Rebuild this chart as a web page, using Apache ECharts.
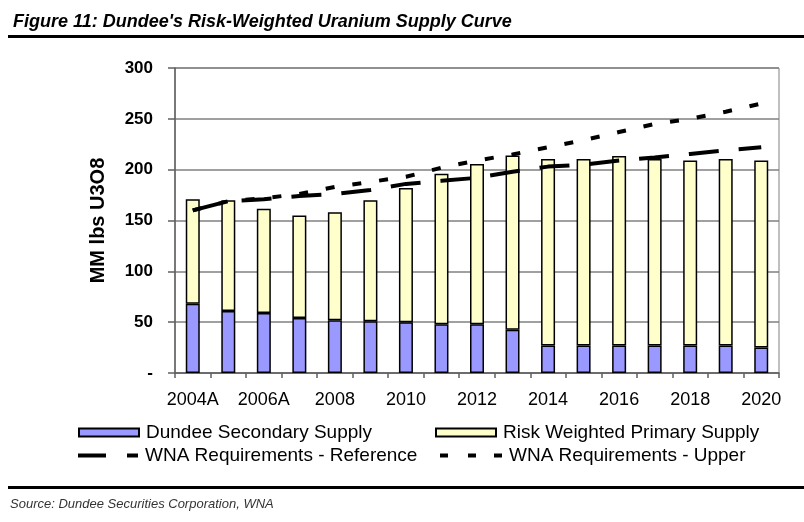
<!DOCTYPE html>
<html>
<head>
<meta charset="utf-8">
<script src="https://cdn.jsdelivr.net/npm/echarts@6/dist/echarts.min.js"></script>
<style>
html,body{margin:0;padding:0;background:#fff;}
#chart{width:804px;height:522px;}
</style>
</head>
<body>
<div id="chart"></div>
<script>
var categories = ['2004A','2005A','2006A','2007','2008','2009','2010','2011','2012','2013','2014','2015','2016','2017','2018','2019','2020'];
var secondarySupply = [68, 61, 59, 54, 52, 51, 50, 48, 48, 42.5, 27, 27, 27, 27, 27, 27, 25];
var primarySupply = [103, 109, 102.5, 101, 106, 119, 132, 148, 157.5, 171.5, 183.5, 183.5, 186.5, 183.5, 182, 183.5, 184];
var wnaReference = [160, 169, 171, 174, 176, 180, 186, 189, 192, 198, 203, 205, 209, 212, 215.5, 219, 222];
var wnaUpper = [160, 169, 172, 176, 183, 188, 193, 202, 209, 215, 222, 229, 237, 245, 250, 257, 265];
var yTicks = [0, 50, 100, 150, 200, 250, 300];

var FONT = "'Liberation Sans', Arial, sans-serif";
var chart = echarts.init(document.getElementById('chart'), null, {renderer: 'canvas'});

function legendBox(name, left, top, w, h, icon) {
  return {
    data: [{name: name, icon: icon}], left: left, top: top, itemWidth: w, itemHeight: h,
    padding: 0, itemGap: 0, selectedMode: false,
    textStyle: {fontFamily: FONT, fontSize: 19, color: '#000', padding: [0,0,0,2]}
  };
}

var option = {
  animation: false,
  backgroundColor: '#fff',
  title: {
    text: "Figure 11: Dundee's Risk-Weighted Uranium Supply Curve",
    left: 8, top: 8,
    textStyle: {fontFamily: FONT, fontSize: 18, fontWeight: 'bold', fontStyle: 'italic', color: '#000'}
  },
  graphic: [
    {type: 'rect', shape: {x: 8, y: 35, width: 796, height: 3}, style: {fill: '#000'}},
    {type: 'rect', shape: {x: 8, y: 486, width: 796, height: 3}, style: {fill: '#000'}},
    {type: 'text', left: 10, top: 498, style: {text: 'Source: Dundee Securities Corporation, WNA', fontFamily: FONT, fontSize: 13, fontStyle: 'italic', fill: '#333'}}
  ],
  legend: [
    legendBox('Dundee Secondary Supply', 78, 423, 60, 8, 'rect'),
    legendBox('Risk Weighted Primary Supply', 435, 423, 60, 8, 'rect'),
    legendBox('WNA Requirements - Reference', 78, 446, 60, 4, 'path://M0,0h28v4h-28z M49,0h11v4h-11z'),
    legendBox('WNA Requirements - Upper', 440, 446, 62, 4, 'path://M0,0h8v4h-8z M28,0h8v4h-8z M54,0h8v4h-8z')
  ],
  grid: {left: 175, right: 25, top: 68, bottom: 149, show: true, borderColor: '#808080', borderWidth: 1},
  xAxis: {
    type: 'category',
    data: categories,
    boundaryGap: true,
    axisLine: {lineStyle: {color: '#606060', width: 1.5}},
    axisTick: {show: true, length: 5, interval: 0, lineStyle: {color: '#606060', width: 1.5}},
    axisLabel: {interval: 1, margin: 18, fontFamily: FONT, fontSize: 18, color: '#000'}
  },
  yAxis: {
    type: 'value',
    min: 0, max: 300, interval: 50,
    name: 'MM lbs U3O8',
    nameLocation: 'middle',
    nameGap: 67,
    nameRotate: 90,
    nameTextStyle: {fontFamily: FONT, fontSize: 20, fontWeight: 'bold', color: '#000'},
    axisLine: {show: true, lineStyle: {color: '#606060', width: 1.5}},
    axisTick: {show: true, length: 7, lineStyle: {color: '#606060', width: 1.5}},
    splitLine: {show: true, lineStyle: {color: '#808080', width: 1.5}},
    axisLabel: {
      margin: 22, fontFamily: FONT, fontSize: 17, fontWeight: 'bold', color: '#000',
      formatter: function (v) { return yTicks.indexOf(v) === 0 ? '-' : String(v); }
    }
  },
  series: [
    {
      name: 'Dundee Secondary Supply', type: 'bar', stack: 'supply', barWidth: 14,
      data: secondarySupply,
      itemStyle: {color: '#9999FF', borderColor: '#000', borderWidth: 1.5}
    },
    {
      name: 'Risk Weighted Primary Supply', type: 'bar', stack: 'supply', barWidth: 14,
      data: primarySupply,
      itemStyle: {color: '#FFFFCC', borderColor: '#000', borderWidth: 1.5}
    },
    {
      name: 'WNA Requirements - Reference', type: 'line', data: wnaReference,
      symbol: 'none', z: 5,
      lineStyle: {color: '#000', width: 4, type: [30, 20]},
      itemStyle: {color: '#000', borderWidth: 0}
    },
    {
      name: 'WNA Requirements - Upper', type: 'line', data: wnaUpper,
      symbol: 'none', z: 5,
      lineStyle: {color: '#000', width: 4, type: [9, 18]},
      itemStyle: {color: '#000', borderWidth: 0}
    }
  ]
};
chart.setOption(option);
</script>
</body>
</html>
